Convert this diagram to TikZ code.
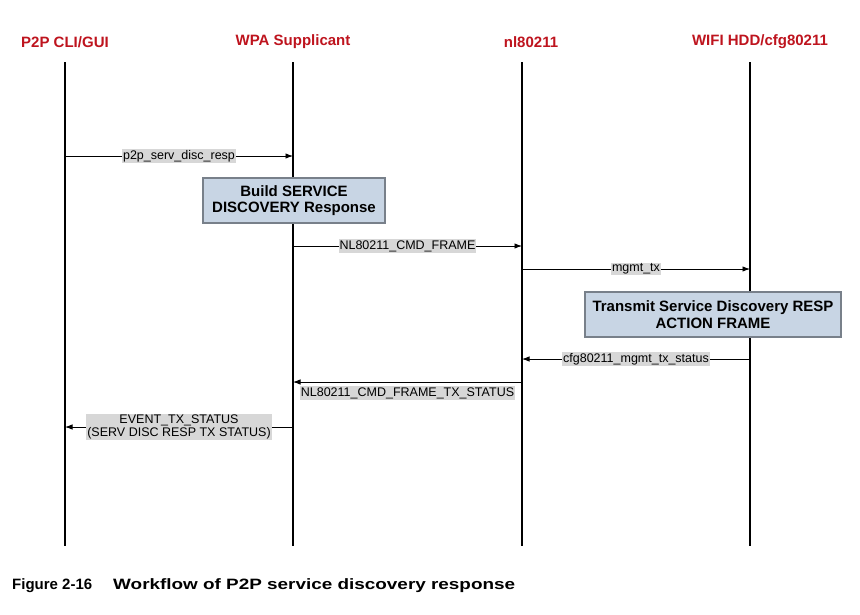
\documentclass[tikz,border=0pt]{standalone}
\usepackage{graphicx}
\usepackage{fontspec}
\setmainfont{Liberation Sans}
\usetikzlibrary{arrows.meta}
\definecolor{hdrred}{RGB}{190,20,30}
\definecolor{boxfill}{RGB}{200,213,228}
\definecolor{boxedge}{RGB}{120,128,138}
\definecolor{lblgray}{RGB}{215,215,215}
\begin{document}
\begin{tikzpicture}[x=1pt,y=-1pt,
  hdr/.style={text=hdrred,font=\fontsize{15}{17}\selectfont\bfseries},
  life/.style={line width=2pt},
  msg/.style={line width=0.9pt,-{Latex[length=7.5pt,width=5.5pt]}},
  lbl/.style={fill=lblgray,inner sep=1pt,font=\fontsize{12.5}{13.5}\selectfont,align=center},
  act/.style={draw=boxedge,fill=boxfill,line width=1.2pt,font=\fontsize{15}{16.5}\selectfont\bfseries,align=center,inner sep=2pt},
  captxt/.style={anchor=base west,inner sep=0pt,font=\fontsize{15}{17}\selectfont\bfseries}]
\useasboundingbox (0,0) rectangle (860,614);
% headers
\node[hdr] (h1) at (65,42) {P2P CLI/GUI};
\node[hdr] (h2) at (293,42) {WPA Supplicant};
\node[hdr] (h3) at (531,42) {nl80211};
\node[hdr] (h4) at (760,42) {WIFI HDD/cfg80211};
% lifelines
\foreach \i/\x in {1/65,2/293,3/522,4/750}{
  \coordinate (t\i) at (\x,62);
  \coordinate (b\i) at (\x,546);
  \draw[life] (t\i) -- (b\i);
}
% message end points
\coordinate (m1s) at (65,156);  \coordinate (m1e) at (293,156);
\coordinate (m2s) at (293,246); \coordinate (m2e) at (522,246);
\coordinate (m3s) at (522,269); \coordinate (m3e) at (750,269);
\coordinate (m4s) at (750,359); \coordinate (m4e) at (522,359);
\coordinate (m5s) at (522,382); \coordinate (m5e) at (293,382);
\coordinate (m6s) at (293,427); \coordinate (m6e) at (65,427);
% messages
\draw[msg] (m1s) -- node[lbl] (l1) {p2p\_serv\_disc\_resp} (m1e);
\draw[msg] (m2s) -- node[lbl] (l2) {NL80211\_CMD\_FRAME} (m2e);
\draw[msg] (m3s) -- node[lbl] (l3) {mgmt\_tx} (m3e);
\draw[msg] (m4s) -- node[lbl] (l4) {cfg80211\_mgmt\_tx\_status} (m4e);
\draw[msg] (m5s) -- node[lbl,yshift=-11pt] (l5) {NL80211\_CMD\_FRAME\_TX\_STATUS} (m5e);
\draw[msg] (m6s) -- node[lbl] (l6) {EVENT\_TX\_STATUS\\(SERV DISC RESP TX STATUS)} (m6e);
% activity boxes
\node[act,minimum width=182pt,minimum height=45pt] (bx1) at (294,200.5) {Build SERVICE\\DISCOVERY Response};
\node[act,minimum width=256pt,minimum height=45pt] (bx2) at (713,314.5) {Transmit Service Discovery RESP\\ACTION FRAME};
% caption
\node[captxt] (cap1) at (12,589) {Figure 2-16};
\node[captxt] (cap2) at (113,589) {\scalebox{1.26}[1]{Workflow of P2P service discovery response}};
\end{tikzpicture}
\end{document}
